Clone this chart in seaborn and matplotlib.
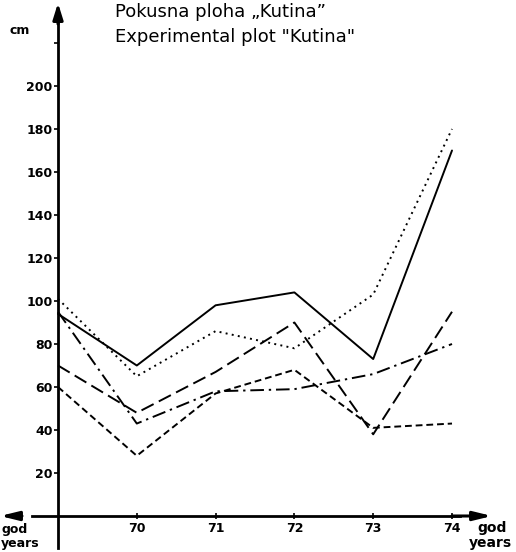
import matplotlib
matplotlib.use("Agg")
import matplotlib.pyplot as plt
import seaborn as sns
import pandas as pd

years = [69, 70, 71, 72, 73, 74]
series_solid = [94, 70, 98, 104, 73, 170]
series_dotted = [101, 65, 86, 78, 103, 180]
series_longdash = [70, 48, 67, 90, 38, 95]
series_dashdot = [95, 43, 58, 59, 66, 80]
series_shortdash = [60, 28, 57, 68, 41, 43]
series_names = ["A", "B", "C", "D", "E"]
y_ticks = [20, 40, 60, 80, 100, 120, 140, 160, 180, 200]
x_ticks = [70, 71, 72, 73, 74]

sns.set_theme(style="white")
plt.rcParams['font.family'] = ['DejaVu Sans']
plt.rcParams['text.color'] = 'black'
plt.rcParams['xtick.color'] = 'black'
plt.rcParams['ytick.color'] = 'black'

rows = []
for name, vals in zip(series_names, [series_solid, series_dotted, series_longdash,
                                     series_dashdot, series_shortdash]):
    for yr, v in zip(years, vals):
        rows.append({"year": yr, "value": v, "series": name})
df = pd.DataFrame(rows)

W, H = 516, 552
fig = plt.figure(figsize=(W / 100, H / 100), dpi=100)
ax = fig.add_axes([0, 0, 1, 1])

X0, PXY = 58, 78.8
Y0, PXV = 516, 2.15
def xd(px):
    return 69 + (px - X0) / PXY
def yd(py):
    return (Y0 - py) / PXV

dashes = {"A": "", "B": (1, 2.2), "C": (7, 3), "D": (7, 2.5, 1.2, 2.5), "E": (3.5, 2)}
sns.lineplot(data=df, x="year", y="value", style="series", dashes=dashes,
             color="black", linewidth=1.4, ax=ax, legend=False)

ax.set_xlim(xd(0), xd(W))
ax.set_ylim(yd(H), yd(0))
ax.set_xlabel("")
ax.set_ylabel("")
ax.set_facecolor("white")

for s in ["top", "right"]:
    ax.spines[s].set_visible(False)
ax.spines["left"].set_position(("data", 69))
ax.spines["bottom"].set_position(("data", 0))
ax.spines["left"].set_bounds(yd(548), yd(18))
ax.spines["bottom"].set_bounds(xd(32), xd(460))
for s in ["left", "bottom"]:
    ax.spines[s].set_color("black")
    ax.spines[s].set_linewidth(2.0)

ax.set_yticks(y_ticks)
ax.set_yticks([220], minor=True)
ax.set_yticklabels([str(t) for t in y_ticks], fontsize=9, fontweight="bold", color="black")
ax.set_xticks(x_ticks)
ax.set_xticklabels([str(t) for t in x_ticks], fontsize=9, fontweight="bold", color="black")
ax.tick_params(axis="y", which="both", direction="out", length=3, width=1.2, color="black", pad=1)
ax.tick_params(axis="x", direction="inout", length=5, width=1.2, color="black", pad=2)
ax.tick_params(left=True, bottom=True)
ax.tick_params(axis="y", which="minor", left=True)
ax.grid(False)

ax.annotate("", xy=(69, yd(3)), xytext=(69, yd(24)),
            arrowprops=dict(arrowstyle="-|>,head_length=0.8,head_width=0.25",
                            color="black", lw=2.2, shrinkA=0, shrinkB=0))
ax.annotate("", xy=(xd(492), 0), xytext=(xd(452), 0),
            arrowprops=dict(arrowstyle="-|>,head_length=0.9,head_width=0.22",
                            color="black", lw=2.2, shrinkA=0, shrinkB=0))
ax.annotate("", xy=(xd(0), 0), xytext=(xd(22), 0),
            arrowprops=dict(arrowstyle="-|>,head_length=0.9,head_width=0.22",
                            color="black", lw=2.2, shrinkA=0, shrinkB=0))

fig.text(115 / W, 1 - 12 / H, "Pokusna ploha \u201eKutina\u201d", fontsize=13,
         ha="left", va="center", color="black")
fig.text(115 / W, 1 - 37 / H, "Experimental plot \"Kutina\"", fontsize=13,
         ha="left", va="center", color="black")
fig.text(10 / W, 1 - 30 / H, "cm", fontsize=9, fontweight="bold", ha="left", va="center")
fig.text(492 / W, 1 - 528 / H, "god", fontsize=10, fontweight="bold", ha="center", va="center")
fig.text(490 / W, 1 - 543 / H, "years", fontsize=10, fontweight="bold", ha="center", va="center")
fig.text(1 / W, 1 - 529 / H, "god", fontsize=9, fontweight="bold", ha="left", va="center")
fig.text(1 / W, 1 - 544 / H, "years", fontsize=9, fontweight="bold", ha="left", va="center")

fig.savefig("out.png", dpi=100, facecolor="white")
